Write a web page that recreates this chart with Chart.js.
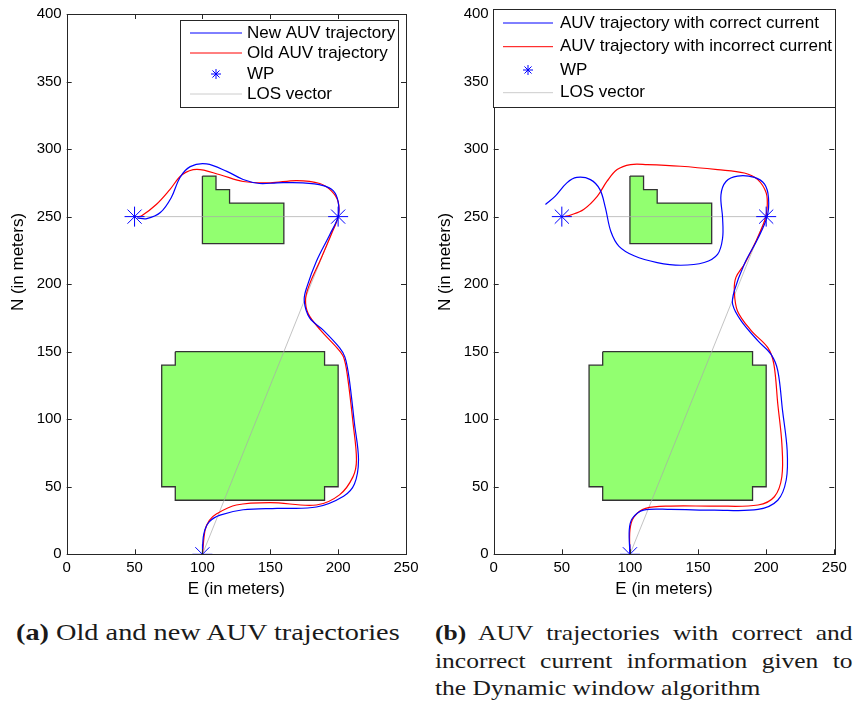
<!DOCTYPE html>
<html>
<head>
<meta charset="utf-8">
<script src="https://cdn.jsdelivr.net/npm/chart.js@4.4.1/dist/chart.umd.min.js"></script>
<style>
  body { margin: 0; background: #fff; width: 853px; height: 706px; position: relative; overflow: hidden; }
  canvas { position: absolute; top: 0; }
  #left { left: 0; }
  #right { left: 425px; }
  .cap { position: absolute; font-family: 'Liberation Serif', serif; font-size: 23px; line-height: 26px; color: #1a1a1a;
         white-space: nowrap; transform: scaleX(1.23); transform-origin: 0 0; }
  .cap b { font-weight: bold; }
  .capb { font-size: 22px; transform: scaleX(1.16); }
  .just { text-align: justify; text-align-last: justify; width: 360px; }
</style>
</head>
<body>
<canvas id="left" width="425" height="610"></canvas>
<canvas id="right" width="428" height="610"></canvas>
<div class="cap" style="left:16px; top:620px;"><b>(a)</b> Old and new AUV trajectories</div>
<div class="cap capb just" style="left:435px; top:620px;"><b>(b)</b> AUV trajectories with correct and</div>
<div class="cap capb just" style="left:435px; top:648px;">incorrect current information given to</div>
<div class="cap capb" style="left:435px; top:675px;">the Dynamic window algorithm</div>
<script>
const xTicks = [0, 50, 100, 150, 200, 250];
const yTicks = [0, 50, 100, 150, 200, 250, 300, 350, 400];

const waypointsE = [100, 200, 50];
const waypointsN = [0, 250, 250];

const losE = [100, 200, 50];
const losN = [0, 250, 250];

const bigObstacleE = [80, 190, 190, 200, 200, 190, 190, 80, 80, 70, 70, 80, 80];
const bigObstacleN = [150, 150, 140, 140, 50, 50, 40, 40, 50, 50, 140, 140, 150];

const smallObstacleE = [100, 110, 110, 120, 120, 160, 160, 100, 100];
const smallObstacleN = [280, 280, 270, 270, 260, 260, 230, 230, 280];

// (a) new and old trajectories
const newTrajE = [100, 101, 105, 113, 130, 155, 184, 204, 212, 215, 212, 208, 205, 201, 189, 179, 175, 177, 184, 194, 200, 200, 196.5, 189, 174, 155, 142, 130, 118, 103, 91, 83.5, 77, 69, 59, 52];
const newTrajN = [0, 15, 24, 29, 33, 34, 35, 43, 52, 70, 97, 131, 146, 153, 166, 175, 188, 198, 217, 237, 250, 261, 269, 273, 275, 275, 274.5, 277.5, 283.5, 289, 287, 279, 264, 253, 248.5, 249];

const oldTrajE = [100, 102, 105, 110.5, 125, 150, 184, 201, 211, 213.5, 211, 207, 204, 199, 187, 178, 176, 179, 186.5, 195, 200, 200, 195, 186.5, 169.5, 150, 130, 113, 96, 85, 76, 66, 55, 52];
const oldTrajN = [0, 18, 25, 30, 36.5, 38.3, 36.5, 44, 57.5, 70, 97, 131, 146, 153, 166, 178, 189, 200, 217, 237, 250, 261, 269, 274.5, 276.7, 275, 276, 281, 285, 281, 270, 259, 250.5, 250];

// (b) correct and incorrect current
const correctTrajE = [100, 99.5, 101.7, 110, 130, 162, 194, 208.5, 214.7, 215.4, 212, 208.5, 203.6, 194, 181.5, 175.4, 176.6, 184, 194, 200.7, 201.7, 198.8, 191.4, 179, 170.5, 166.8, 168, 168, 164.3, 154.5, 137.3, 120, 103, 92, 86, 82, 78, 71, 61, 53.7, 45, 38];
const correctTrajN = [0, 18, 26.5, 32.7, 33.2, 32.7, 33.2, 40, 55, 77, 106.5, 136, 148, 158, 173, 185, 195, 215, 234, 250, 264, 274, 279, 280, 276, 266, 249, 234, 222, 216, 214, 216, 221, 228, 239, 256.5, 270, 277.4, 279, 275, 265, 259];

const incorrectTrajE = [100, 100, 103, 111.5, 130, 162, 194, 206, 211.5, 211.5, 208.5, 205.6, 201.2, 189, 179, 176.6, 177.8, 184, 191.4, 198.8, 200.7, 200, 193.8, 184, 164.3, 137.3, 112.7, 100.4, 90.6, 83.2, 76, 66, 56, 52];
const incorrectTrajN = [0, 18, 27.7, 34, 35.7, 35.7, 36.5, 42.6, 57.4, 82, 111.5, 141, 153, 165.6, 180, 195, 205, 214.7, 229.5, 246.7, 256.5, 267.6, 277.4, 282.3, 284.8, 287.3, 288.5, 288.5, 284.8, 276.2, 265, 255.3, 251, 250];

const pts = (xs, ys) => xs.map((v, i) => ({ x: v, y: ys[i] }));
const FONT = "'Liberation Sans', Arial, sans-serif";
const AXIS = '#262626';

function obstacle(xs, ys) {
  return {
    data: pts(xs, ys), showLine: true, fill: 'shape', tension: 0,
    backgroundColor: 'rgb(146,255,112)', borderColor: '#333', borderWidth: 1.3,
    pointRadius: 0, order: 5
  };
}

const boxPlugin = {
  id: 'box',
  afterDraw(chart, args, opts) {
    const { ctx, chartArea: a, scales: { x, y } } = chart;
    ctx.save();
    ctx.strokeStyle = AXIS;
    ctx.lineWidth = 1;
    ctx.beginPath();
    xTicks.forEach(v => {
      const px = Math.round(x.getPixelForValue(v)) + 0.5;
      ctx.moveTo(px, a.bottom); ctx.lineTo(px, a.bottom - 5);
      ctx.moveTo(px, a.top); ctx.lineTo(px, a.top + 5);
    });
    yTicks.forEach(v => {
      const py = Math.round(y.getPixelForValue(v)) + 0.5;
      ctx.moveTo(a.left, py); ctx.lineTo(a.left + 5, py);
      ctx.moveTo(a.right, py); ctx.lineTo(a.right - 5, py);
    });
    ctx.stroke();
    ctx.strokeRect(Math.round(a.left) + 0.5, Math.round(a.top) + 0.5, Math.round(a.right - a.left), Math.round(a.bottom - a.top));

    // y axis title
    ctx.fillStyle = '#000';
    ctx.font = '17px ' + FONT;
    ctx.textAlign = 'center';
    ctx.textBaseline = 'middle';
    ctx.translate(opts.yTitleX, opts.yTitleY);
    ctx.rotate(-Math.PI / 2);
    ctx.fillText('N (in meters)', 0, 0);
    ctx.restore();

    // legend
    const L = opts.legend;
    ctx.save();
    ctx.fillStyle = '#fff';
    ctx.fillRect(L.x0, L.y0, L.x1 - L.x0, L.y1 - L.y0);
    ctx.strokeStyle = AXIS;
    ctx.lineWidth = 1;
    ctx.strokeRect(L.x0 + 0.5, L.y0 + 0.5, L.x1 - L.x0, L.y1 - L.y0);
    ctx.font = '17px ' + FONT;
    ctx.textAlign = 'left';
    ctx.textBaseline = 'middle';
    L.items.forEach((it, i) => {
      const ry = L.rows[i];
      ctx.strokeStyle = it.color;
      ctx.lineWidth = 1;
      ctx.beginPath();
      if (it.marker) {
        const cx = (L.lx0 + L.lx1) / 2, r = 5;
        for (let k = 0; k < 4; k++) {
          const ang = k * Math.PI / 4;
          ctx.moveTo(cx - r * Math.cos(ang), ry - r * Math.sin(ang));
          ctx.lineTo(cx + r * Math.cos(ang), ry + r * Math.sin(ang));
        }
      } else {
        ctx.moveTo(L.lx0, ry); ctx.lineTo(L.lx1, ry);
      }
      ctx.stroke();
      ctx.fillStyle = '#000';
      ctx.fillText(it.label, L.tx, ry);
    });
    ctx.restore();
  }
};

function makeChart(id, blueE, blueN, redE, redN, yWidth, padRight, legend, yTitleX) {
  return new Chart(document.getElementById(id), {
    type: 'scatter',
    data: {
      datasets: [
        { data: pts(waypointsE, waypointsN), pointStyle: 'star', pointRadius: 10, borderColor: '#0000ff', backgroundColor: '#0000ff', borderWidth: 1, showLine: false, order: 0 },
        { data: pts(blueE, blueN), showLine: true, borderColor: '#0000ff', borderWidth: 1.2, pointRadius: 0, tension: 0.35, order: 1 },
        { data: pts(redE, redN), showLine: true, borderColor: '#ff0000', borderWidth: 1.2, pointRadius: 0, tension: 0.35, order: 2 },
        { data: pts(losE, losN), showLine: true, borderColor: 'rgba(170,170,170,0.7)', borderWidth: 1, pointRadius: 0, tension: 0, order: 3 },
        obstacle(bigObstacleE, bigObstacleN),
        obstacle(smallObstacleE, smallObstacleN)
      ]
    },
    options: {
      responsive: false,
      animation: false,
      events: [],
      layout: { padding: { left: 0, right: padRight, top: 13, bottom: 10.7 } },
      plugins: {
        legend: { display: false },
        tooltip: { enabled: false },
        box: { legend: legend, yTitleX: yTitleX, yTitleY: 262 }
      },
      scales: {
        x: {
          type: 'linear', min: 0, max: 250,
          afterFit: s => { s.height = 45; },
          afterBuildTicks: s => { s.ticks = xTicks.map(v => ({ value: v })); },
          grid: { display: false, drawTicks: false },
          border: { display: false },
          ticks: { padding: 5, color: '#000', font: { family: FONT, size: 15 }, maxRotation: 0, autoSkip: false },
          title: { display: true, text: 'E (in meters)', color: '#000', font: { family: FONT, size: 17 }, padding: 0 }
        },
        y: {
          type: 'linear', min: 0, max: 400,
          afterFit: s => { s.width = yWidth; },
          afterBuildTicks: s => { s.ticks = yTicks.map(v => ({ value: v })); },
          grid: { display: false, drawTicks: false },
          border: { display: false },
          ticks: { padding: 5, color: '#000', font: { family: FONT, size: 15 }, autoSkip: false }
        }
      }
    },
    plugins: [boxPlugin]
  });
}

makeChart('left', newTrajE, newTrajN, oldTrajE, oldTrajN, 66.7, 19, {
  x0: 180, y0: 20, x1: 398, y1: 107, lx0: 190, lx1: 242, tx: 247,
  rows: [33, 53, 74, 94],
  items: [
    { label: 'New AUV trajectory', color: '#0000ff' },
    { label: 'Old AUV trajectory', color: '#ff0000' },
    { label: 'WP', color: '#0000ff', marker: true },
    { label: 'LOS vector', color: '#cccccc' }
  ]
}, 18);

makeChart('right', correctTrajE, correctTrajN, incorrectTrajE, incorrectTrajN, 68.7, 18.7, {
  x0: 493 - 425, y0: 9, x1: 835 - 425, y1: 107, lx0: 503 - 425, lx1: 553 - 425, tx: 560 - 425,
  rows: [23, 46.7, 70, 92.7],
  items: [
    { label: 'AUV trajectory with correct current', color: '#0000ff' },
    { label: 'AUV trajectory with incorrect current', color: '#ff0000' },
    { label: 'WP', color: '#0000ff', marker: true },
    { label: 'LOS vector', color: '#cccccc' }
  ]
}, 20);
</script>
</body>
</html>
